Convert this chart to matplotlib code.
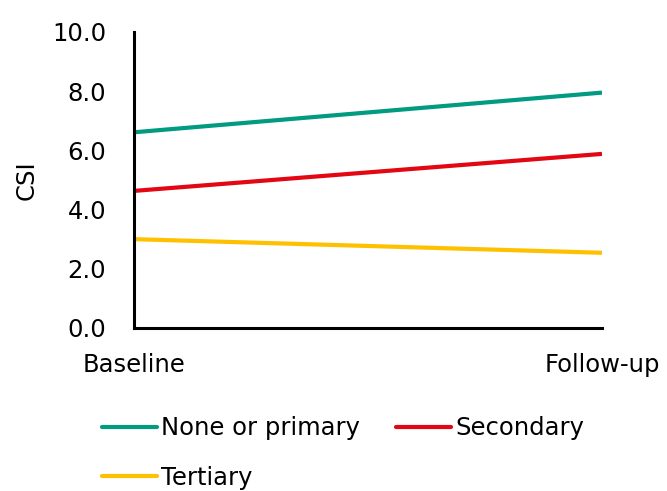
import matplotlib
matplotlib.use("Agg")
import matplotlib.pyplot as plt

plt.rcParams['font.family'] = ['DejaVu Sans']

categories = ["Baseline", "Follow-up"]
series_names = ["None or primary", "Secondary", "Tertiary"]
none_primary = [6.61, 7.95]
secondary = [4.63, 5.88]
tertiary = [3.0, 2.54]
colors = ["#009B80", "#E30613", "#FFC000"]
yticks = [0, 2, 4, 6, 8, 10]

FS = 17.5

fig = plt.figure(figsize=(6.67, 4.91), dpi=100)
ax = fig.add_axes([0.2009, 0.332, 0.7016, 0.603])

x = list(range(len(categories)))
lines = []
for vals, name, c in zip([none_primary, secondary, tertiary], series_names, colors):
    l, = ax.plot(x, vals, color=c, lw=3.0, label=name, solid_capstyle='butt')
    lines.append(l)

ax.set_xlim(0, 1)
ax.set_ylim(0, 10)
ax.set_yticks(yticks)
ax.set_yticklabels([f"{v:.1f}" for v in yticks], fontsize=FS)
ax.set_xticks(x)
ax.set_xticklabels(categories, fontsize=FS)
ax.tick_params(axis='x', length=0, pad=18)
ax.tick_params(axis='y', length=0, pad=20)
ax.set_ylabel("CSI", fontsize=FS, labelpad=10)
for s in ["top", "right"]:
    ax.spines[s].set_visible(False)
for s in ["left", "bottom"]:
    ax.spines[s].set_linewidth(2.2)
    ax.spines[s].set_color("black")

# order handles so the row-major reading matches: row1 = None, Secondary; row2 = Tertiary
order = [0, 2, 1]
leg = fig.legend(handles=[lines[i] for i in order], loc="upper left",
                 bbox_to_anchor=(0.153, 0.152),
                 ncol=2, frameon=False, fontsize=FS, handlelength=2.25,
                 handletextpad=0.17, columnspacing=1.5, labelspacing=1.05,
                 borderaxespad=0, borderpad=0)
for h in leg.get_lines():
    h.set_solid_capstyle('round')

fig.savefig("out.png", dpi=100)
